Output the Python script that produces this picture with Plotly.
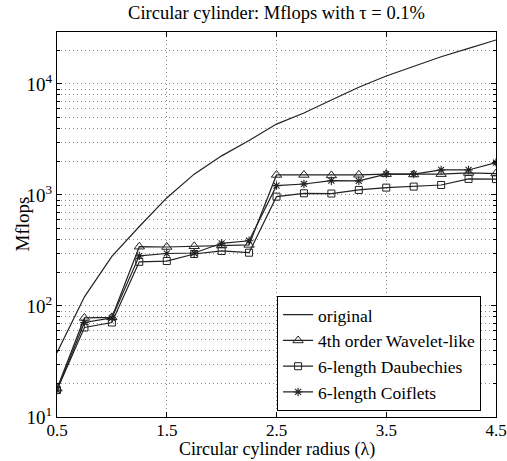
import plotly.graph_objects as go

radius = [0.5, 0.75, 1.0, 1.25, 1.5, 1.75, 2.0, 2.25, 2.5, 2.75, 3.0, 3.25, 3.5, 3.75, 4.0, 4.25, 4.5]
original = [38, 121, 280, 520, 940, 1540, 2250, 3100, 4350, 5480, 7180, 9330, 11800, 14300, 17600, 20900, 24900]
wavelet = [18, 78, 79, 342, 340, 345, 350, 355, 1515, 1515, 1500, 1520, 1540, 1530, 1540, 1580, 1560]
daub = [17.5, 64, 71, 250, 254, 294, 313, 302, 966, 1035, 1030, 1110, 1165, 1190, 1230, 1394, 1390]
coif = [17.5, 71, 78, 283, 297, 300, 367, 387, 1213, 1256, 1345, 1340, 1540, 1540, 1680, 1680, 1955]

x_ticks = [0.5, 1.5, 2.5, 3.5, 4.5]
x_ticklabels = ["0.5", "1.5", "2.5", "3.5", "4.5"]
y_ticks = [10, 100, 1000, 10000]
y_ticklabels = ["10<sup>1</sup>", "10<sup>2</sup>", "10<sup>3</sup>", "10<sup>4</sup>"]

FONT = "Liberation Serif"
LC = "#222222"

fig = go.Figure()
fig.add_trace(go.Scatter(x=radius, y=original, mode="lines", name="original",
                         line=dict(color=LC, width=1.2)))
fig.add_trace(go.Scatter(x=radius, y=wavelet, mode="lines+markers", name="4th order Wavelet-like",
                         line=dict(color=LC, width=1.2),
                         marker=dict(symbol="triangle-up-open", size=9, color=LC, line=dict(width=1, color=LC))))
fig.add_trace(go.Scatter(x=radius, y=daub, mode="lines+markers", name="6-length Daubechies",
                         line=dict(color=LC, width=1.2),
                         marker=dict(symbol="square-open", size=7, color=LC, line=dict(width=1, color=LC))))
fig.add_trace(go.Scatter(x=radius, y=coif, mode="lines+markers", name="6-length Coiflets",
                         line=dict(color=LC, width=1.2),
                         marker=dict(symbol="asterisk-open", size=7, color=LC, line=dict(width=1.1, color=LC))))

gridc = "#8a8a8a"
gdash = "1px,3px"
fig.update_layout(
    template="none",
    width=507, height=461,
    margin=dict(l=57, r=11, t=32, b=44),
    paper_bgcolor="white", plot_bgcolor="white",
    font=dict(family=FONT, size=18, color="black"),
    title=dict(text="Circular cylinder: Mflops with \u03c4 = 0.1%", x=0.5, xref="paper", xanchor="center",
               y=1 - 13 / 461, yref="container", yanchor="middle",
               font=dict(family=FONT, size=18.5, color="black")),
    showlegend=True,
    legend=dict(x=0.966, y=0.016, xanchor="right", yanchor="bottom",
                bgcolor="white", bordercolor="black", borderwidth=1,
                font=dict(family=FONT, size=17.5, color="black"),
                tracegroupgap=0),
    xaxis=dict(range=[0.5, 4.5], tickvals=x_ticks, ticktext=x_ticklabels,
               showgrid=True, gridcolor=gridc, griddash=gdash, gridwidth=1,
               ticks="inside", ticklen=5, tickcolor="black",
               showline=True, linecolor="black", linewidth=1.2, mirror="ticks",
               zeroline=False, automargin=False, ticklabeloverflow="allow",
               ticklabelstandoff=-3,
               tickfont=dict(family=FONT, size=17)),
    yaxis=dict(type="log", range=[1, 4.468], tickvals=y_ticks, ticktext=y_ticklabels,
               showgrid=True, gridcolor=gridc, griddash=gdash, gridwidth=1,
               ticks="inside", ticklen=5, tickcolor="black",
               showline=True, linecolor="black", linewidth=1.2, mirror="ticks",
               zeroline=False, automargin=False, ticklabeloverflow="allow",
               tickfont=dict(family=FONT, size=19),
               minor=dict(dtick="D1", ticks="inside", ticklen=3, tickcolor="black",
                          showgrid=True, gridcolor=gridc, griddash=gdash, gridwidth=1)),
    annotations=[
        dict(text="Circular cylinder radius (\u03bb)", xref="paper", yref="paper",
             x=0.5, y=(417 - 450) / 385, xanchor="center", yanchor="middle",
             showarrow=False, font=dict(family=FONT, size=18)),
        dict(text="Mflops", xref="paper", yref="paper", textangle=-90,
             x=(22 - 57) / 439, y=0.5, xanchor="center", yanchor="middle",
             showarrow=False, font=dict(family=FONT, size=19)),
    ],
)

fig.write_html("out.html")
